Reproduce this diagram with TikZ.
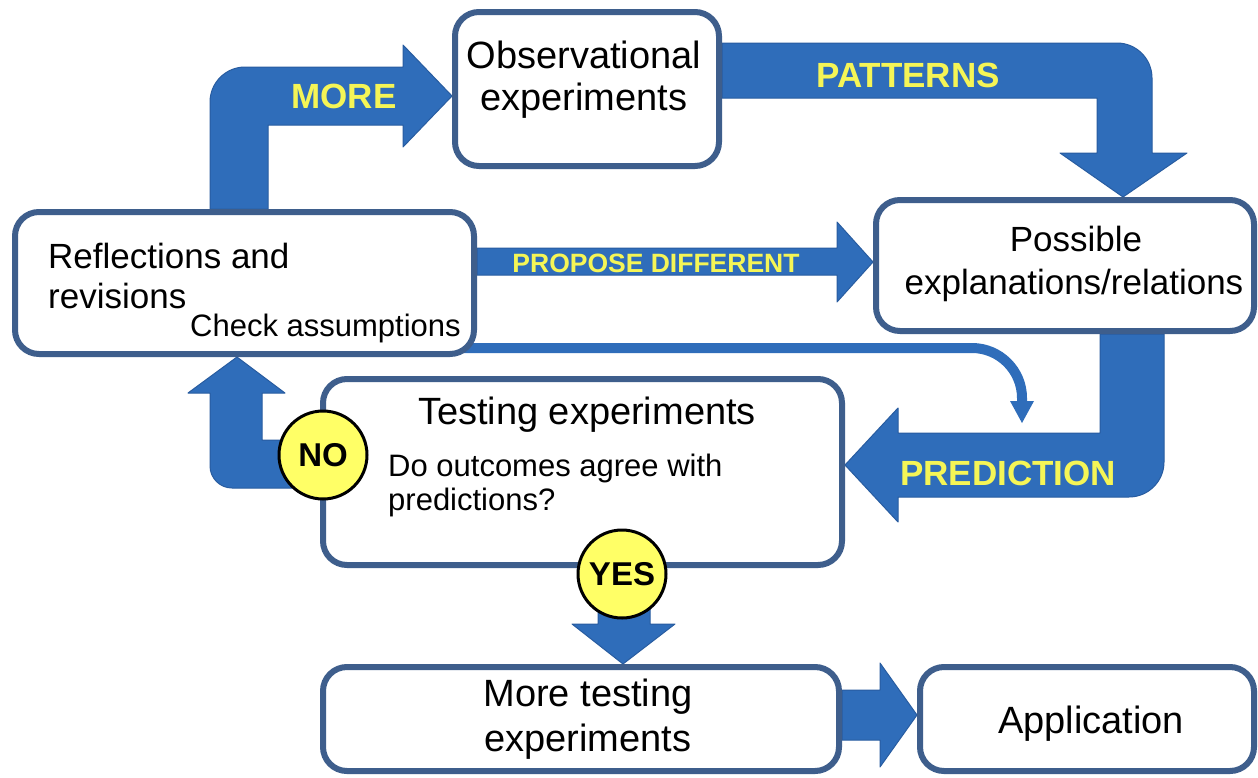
\documentclass[tikz,border=0pt]{standalone}
\usepackage{fontspec}
\setmainfont{Liberation Sans}
\usetikzlibrary{backgrounds,calc}

\definecolor{arrowblue}{RGB}{47,109,186}
\definecolor{arrowedge}{RGB}{40,92,160}
\definecolor{boxline}{RGB}{62,94,140}
\definecolor{labelyellow}{RGB}{245,245,86}
\definecolor{dotyellow}{RGB}{255,255,102}

\tikzset{
  box/.style={draw=boxline, line width=6pt, rounded corners=24pt, fill=white, inner sep=0pt},
  fat/.style={fill=arrowblue, draw=arrowedge, line width=1pt, line join=round},
  txt/.style={anchor=base, inner sep=0pt, font=\fontsize{38}{42}\selectfont},
  small/.style={font=\fontsize{31}{36}\selectfont},
  mid/.style={font=\fontsize{35}{40}\selectfont},
  lbl/.style={anchor=base, inner sep=0pt, text=labelyellow, font=\fontsize{35}{40}\selectfont\bfseries},
  dot/.style={circle, draw=black, line width=3pt, fill=dotyellow, minimum size=88pt, inner sep=0pt,
              font=\fontsize{33}{36}\selectfont\bfseries}
}

\begin{document}
\begin{tikzpicture}[x=1pt, y=-1pt]
  \useasboundingbox (0,0) rectangle (1258,777);

  \node[box, minimum width=264pt, minimum height=154pt] (obs)  at ( 587  ,  89  ) {};
  \node[box, minimum width=459pt, minimum height=142pt] (refl) at ( 244.5, 283  ) {};
  \node[box, minimum width=378pt, minimum height=131pt] (poss) at (1065  , 265.5) {};
  \node[box, minimum width=519pt, minimum height=186pt] (test) at ( 582.5, 472  ) {};
  \node[box, minimum width=516pt, minimum height=104pt] (more) at ( 581  , 719  ) {};
  \node[box, minimum width=334pt, minimum height=104pt] (app)  at (1087  , 719  ) {};

  \node[txt] (obs1) at (584,  68) {Observational};
  \node[txt] (obs2) at (584, 110) {experiments};
  \node[txt, mid] (poss1) at (1076, 251) {Possible};
  \node[txt, mid] (poss2) at (1074, 294) {explanations/relations};
  \node[txt, mid, anchor=base west] (refl1) at (48, 268) {Reflections and};
  \node[txt, mid, anchor=base west] (refl2) at (48, 308) {revisions};
  \node[txt, small, anchor=base west] (refl3) at (190, 336) {Check assumptions};
  \node[txt] (test1) at (587, 424) {Testing experiments};
  \node[txt, small, anchor=base west] (test2) at (388, 476) {Do outcomes agree with};
  \node[txt, small, anchor=base west] (test3) at (388, 510) {predictions?};
  \node[txt] (more1) at (588, 706) {More testing};
  \node[txt] (more2) at (588, 751) {experiments};
  \node[txt] (app1)  at (1091, 733) {Application};

  \node[lbl] (morelbl) at ( 344, 108) {MORE};
  \node[lbl] (patlbl)  at ( 908,  87) {PATTERNS};
  \node[lbl] (predlbl) at (1008, 485) {PREDICTION};
  \node[lbl, font=\fontsize{26.5}{30}\selectfont\bfseries] (proplbl) at (656, 272) {PROPOSE DIFFERENT};

  \node[dot] (no)  at (323, 455) {NO};
  \node[dot] (yes) at (622, 574) {YES};

  \coordinate (hint) at (1022, 423);

  \begin{scope}[on background layer]
    \fill[white] (0,0) rectangle (1258,777);

    \draw[fat] (refl.north -| 210,0) -- (210,102) .. controls (210,82.7) and (225.7,67) .. (245,67)
               -- (403,67) -- (403,45) -- (obs.west |- 0,96) -- (403,147) -- (403,125)
               -- (268,125) -- (refl.north -| 268,0) -- cycle;

    \draw[fat] (obs.east |- 0,43) -- (1117,43) .. controls (1136.3,43) and (1152,58.7) .. (1152,78)
               -- (1152,153) -- (1187,153) -- (poss.north -| 1123,0) -- (1060,153) -- (1097,153)
               -- (1097,98) -- (obs.east |- 0,98) -- cycle;

    \draw[fat] (poss.south -| 1100,0) -- (1100,433) -- (898,433) -- (898,408) -- (test.east |- 0,465)
               -- (898,522) -- (898,497) -- (1129,497) .. controls (1148.3,497) and (1164,481.3) .. (1164,462)
               -- (poss.south -| 1164,0) -- cycle;

    \draw[fat] (refl.east |- 0,248) -- (837,248) -- (837,222) -- (poss.west |- 0,262)
               -- (837,302) -- (837,275) -- (refl.east |- 0,275) -- cycle;

    \draw[arrowblue, line width=10pt] ($(refl.south east)+(-20,-9)$) -- (972,348)
               .. controls (999.6,348) and (1022,370.4) .. (1022,398) -- (1022,404);
    \fill[arrowblue] (1010,401) -- (1034,401) -- (hint) -- cycle;

    \draw[fat] (no.center |- 0,440) -- (262,440) -- (262,393) -- (285,393) -- (refl.south -| 237,0)
               -- (188,393) -- (210,393) -- (210,466) .. controls (210,478.1) and (219.9,488) .. (232,488)
               -- (no.center |- 0,488) -- cycle;

    \draw[fat] (yes.center -| 598,0) -- (598,624) -- (572,624) -- (more.north -| 623,0)
               -- (675,624) -- (650,624) -- (yes.center -| 650,0) -- cycle;

    \draw[fat] (more.east |- 0,690) -- (880,690) -- (880,663) -- (app.west |- 0,715)
               -- (880,767) -- (880,740) -- (more.east |- 0,740) -- cycle;
  \end{scope}
\end{tikzpicture}
\end{document}
